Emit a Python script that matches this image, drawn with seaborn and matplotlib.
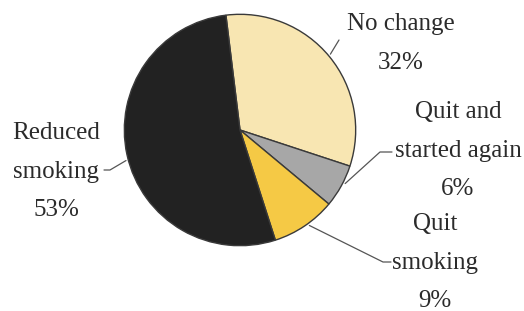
import matplotlib.pyplot as plt
import seaborn as sns
import numpy as np

# data
labels = ["No change", "Quit and\nstarted again", "Quit\nsmoking", "Reduced\nsmoking"]
shares = [32, 6, 9, 53]
colors = ["#F8E6B2", "#A7A7A7", "#F5C945", "#222222"]

sns.set_theme(style="white")
plt.rcParams["font.family"] = ["Liberation Serif", "DejaVu Serif"]

W, H = 524, 311
fig = plt.figure(figsize=(W / 100, H / 100), dpi=100)
# pie centred at (240, 130) px from top-left, radius 118 px
cx, cy, r = 240, 130, 118
ax = fig.add_axes([(cx - r) / W, (H - cy - r) / H, 2 * r / W, 2 * r / H])

wedges, _ = ax.pie(
    shares, colors=colors, startangle=97, counterclock=False,
    wedgeprops=dict(edgecolor="#3a3a3a", linewidth=1.0),
)
ax.set_xlim(-1.02, 1.02)
ax.set_ylim(-1.02, 1.02)
ax.axis("off")

# label text positions (figure pixels, from top) and leader line targets
text_pos = [(401, 13), (458, 101), (435, 213), (56, 122)]
leader_ang = [40, -27, -54, 195]
leader_end = [(339, 40), (392, 152), (391, 262), (104, 170)]
leader_mid = [None, (380, 152), (383, 262), (110, 170)]

for lab, pct, (tx, ty), ang, end, mid in zip(labels, shares, text_pos, leader_ang,
                                             leader_end, leader_mid):
    fig.text(tx / W, 1 - ty / H, f"{lab}\n{pct}%", ha="center", va="top",
             fontsize=18, color="#2b2b2b", linespacing=1.98,
             transform=fig.transFigure)
    th = np.deg2rad(ang)
    x0, y0 = cx + r * np.cos(th), cy - r * np.sin(th)
    pts = [(x0, y0)]
    if mid is not None:
        pts.append(mid)
    pts.append(end)
    xs = [p[0] / W for p in pts]
    ys = [1 - p[1] / H for p in pts]
    fig.add_artist(plt.Line2D(xs, ys, color="#555555", lw=0.9,
                              transform=fig.transFigure))

fig.savefig("out.png", dpi=100)
